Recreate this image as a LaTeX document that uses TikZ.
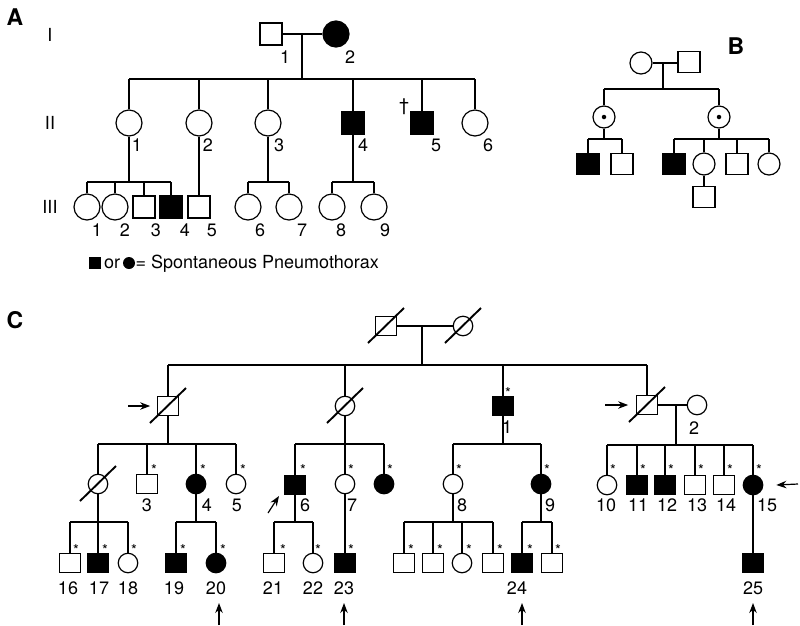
\documentclass[tikz,border=0pt]{standalone}
\usepackage{fontspec}
\setmainfont{TeX Gyre Heros}
\usetikzlibrary{arrows.meta}
\tikzset{
  sqA/.style={draw, rectangle, minimum width=22pt, minimum height=22pt, inner sep=0pt},
  ciA/.style={draw, circle, minimum size=26pt, inner sep=0pt},
  sqB/.style={draw, rectangle, minimum width=22pt, minimum height=21pt, inner sep=0pt},
  ciB/.style={draw, circle, minimum size=22pt, inner sep=0pt},
  sqC/.style={draw, rectangle, minimum width=20.5pt, minimum height=19pt, inner sep=0pt},
  ciC/.style={draw, circle, minimum size=19.5pt, inner sep=0pt},
  aff/.style={fill=black},
  dotc/.style={circle, fill=black, inner sep=0pt, minimum size=4.5pt},
  lbl/.style={font=\fontsize{18}{18}\selectfont, inner sep=0pt},
  gen/.style={font=\fontsize{18}{18}\selectfont, inner sep=0pt},
  panel/.style={font=\bfseries\fontsize{23}{23}\selectfont, inner sep=0pt},
  ast/.style={font=\fontsize{15}{15}\selectfont, inner sep=0pt},
  slash/.style={line width=1.9pt},
  arr/.style={-{Stealth[length=10pt,width=7.5pt]}, line width=1.2pt},
}
\begin{document}
\begin{tikzpicture}[x=1pt,y=-1pt,line width=1.2pt]
\useasboundingbox (0,0) rectangle (800,625);

% ================= Panel A =================
\node[panel] (pA) at (15,17) {A};
\node[gen] (gI) at (50,35) {I};
\node[gen] (gII) at (50,123) {II};
\node[gen] (gIII) at (50,207) {III};

\node[sqA] (AI1) at (271,34) {};
\node[ciA,aff] (AI2) at (336,34) {};
\draw (AI1.east) -- (AI2.west);
\node[lbl] (lAI1) at (285,57) {1};
\node[lbl] (lAI2) at (350,57) {2};
\coordinate (sA) at (302,79);
\draw (sA |- AI1.east) -- (sA);

\node[ciA] (AII1) at (129,123) {};
\node[ciA] (AII2) at (199,123) {};
\node[ciA] (AII3) at (268,123) {};
\node[sqA,aff] (AII4) at (353,123) {};
\node[sqA,aff] (AII5) at (422,123) {};
\node[ciA] (AII6) at (475,123) {};
\draw (AII1.north |- sA) -- (AII6.north |- sA);
\foreach \n in {AII1,AII2,AII3,AII4,AII5,AII6} \draw (\n.north) -- (\n.north |- sA);
\node[lbl] (dag) at (404,107) {†};
\node[lbl] (lAII1) at (137,145) {1};
\node[lbl] (lAII2) at (208,145) {2};
\node[lbl] (lAII3) at (279,145) {3};
\node[lbl] (lAII4) at (363,145) {4};
\node[lbl] (lAII5) at (436,145) {5};
\node[lbl] (lAII6) at (488,145) {6};

\node[ciA] (AIII1) at (87,207) {};
\node[ciA] (AIII2) at (115,207) {};
\node[sqA] (AIII3) at (144,207) {};
\node[sqA,aff] (AIII4) at (171,207) {};
\node[sqA] (AIII5) at (199,207) {};
\node[ciA] (AIII6) at (248,207) {};
\node[ciA] (AIII7) at (289,207) {};
\node[ciA] (AIII8) at (332,207) {};
\node[ciA] (AIII9) at (374,207) {};

\coordinate (sA1) at (129,182);
\draw (AII1.south) -- (sA1);
\draw (AIII1.north |- sA1) -- (AIII4.north |- sA1);
\foreach \n in {AIII1,AIII2,AIII3,AIII4} \draw (\n.north) -- (\n.north |- sA1);
\draw (AII2.south) -- (AIII5.north);
\coordinate (sA3) at (268,182);
\draw (AII3.south) -- (sA3);
\draw (AIII6.north |- sA3) -- (AIII7.north |- sA3);
\foreach \n in {AIII6,AIII7} \draw (\n.north) -- (\n.north |- sA3);
\coordinate (sA4) at (353,182);
\draw (AII4.south) -- (sA4);
\draw (AIII8.north |- sA4) -- (AIII9.north |- sA4);
\foreach \n in {AIII8,AIII9} \draw (\n.north) -- (\n.north |- sA4);

\node[lbl] (lAIII1) at (97,230) {1};
\node[lbl] (lAIII2) at (125,230) {2};
\node[lbl] (lAIII3) at (156,230) {3};
\node[lbl] (lAIII4) at (185,230) {4};
\node[lbl] (lAIII5) at (212,230) {5};
\node[lbl] (lAIII6) at (260,230) {6};
\node[lbl] (lAIII7) at (302,230) {7};
\node[lbl] (lAIII8) at (341,230) {8};
\node[lbl] (lAIII9) at (385,230) {9};

% legend
\node[fill=black, inner sep=0pt, minimum size=11.5pt] (legS) at (95,263) {};
\node[lbl, anchor=base] (legOr) at (112,268) {or};
\node[circle, fill=black, inner sep=0pt, minimum size=12pt] (legC) at (129,263) {};
\node[lbl, anchor=base west] (legT) at (135,268) {= Spontaneous Pneumothorax};

% ================= Panel B =================
\node[panel] (pB) at (736,46) {B};
\node[ciB] (B1) at (641,63) {};
\node[sqB] (B2) at (689,62) {};
\draw (B1.east) -- (B2.west |- B1.east);
\coordinate (sB) at (663,89);
\draw (sB |- B1.east) -- (sB);
\node[ciB] (BC1) at (604,117) {};
\node[ciB] (BC2) at (719,117) {};
\node[dotc] (BC1d) at (BC1) {};
\node[dotc] (BC2d) at (BC2) {};
\draw (BC1.north |- sB) -- (BC2.north |- sB);
\foreach \n in {BC1,BC2} \draw (\n.north) -- (\n.north |- sB);

\node[sqB,aff] (BD1) at (588,164) {};
\node[sqB] (BD2) at (622,164) {};
\coordinate (sBC1) at (604,139);
\draw (BC1.south) -- (sBC1);
\draw (BD1.north |- sBC1) -- (BD2.north |- sBC1);
\foreach \n in {BD1,BD2} \draw (\n.north) -- (\n.north |- sBC1);

\node[sqB,aff] (BE1) at (674,164) {};
\node[ciB] (BE2) at (704,164) {};
\node[sqB] (BE3) at (737,164) {};
\node[ciB] (BE4) at (769,164) {};
\coordinate (sBC2) at (719,139);
\draw (BC2.south) -- (sBC2);
\draw (BE1.north |- sBC2) -- (BE4.north |- sBC2);
\foreach \n in {BE1,BE2,BE3,BE4} \draw (\n.north) -- (\n.north |- sBC2);
\node[sqB] (BF1) at (704,197) {};
\draw (BE2.south) -- (BF1.north);

% ================= Panel C =================
\node[panel] (pC) at (15,320) {C};

\node[sqC] (G1) at (386,326) {};
\node[ciC] (G2) at (463,326) {};
\foreach \n in {G1,G2}
  \draw[slash] ([shift={(-18,17)}]\n.center) -- ([shift={(18,-18)}]\n.center);
\draw (G1.east) -- (G2.west);
\coordinate (sG) at (422,365);
\draw (sG |- G1.east) -- (sG);

\node[sqC] (H1) at (168,406) {};
\node[ciC] (H2) at (345,406) {};
\node[sqC,aff] (H3) at (503,406) {};
\node[sqC] (H4) at (647,405) {};
\node[ciC] (H5) at (697,405) {};
\foreach \n in {H1,H2,H4}
  \draw[slash] ([shift={(-18,17)}]\n.center) -- ([shift={(18,-18)}]\n.center);
\draw (H1.north |- sG) -- (H4.north |- sG);
\foreach \n in {H1,H2,H3,H4} \draw (\n.north) -- (\n.north |- sG);
\node[ast] (aH3) at (508,393) {*};
\node[lbl] (lH3) at (507,427) {1};
\draw (H4.east) -- (H5.west);
\node[lbl] (lH5) at (694,428) {2};
\coordinate (arH1) at (128,406);
\draw[arr] (arH1) -- ([xshift=-7pt]H1.west);
\coordinate (arH4) at (605,405);
\draw[arr] (arH4) -- ([xshift=-8pt]H4.west);

% children of H1
\node[ciC] (J1) at (98,484) {};
\node[sqC] (J2) at (147,484) {};
\node[ciC,aff] (J3) at (196,484) {};
\node[ciC] (J4) at (236,484) {};
\draw[slash] ([shift={(-18,17)}]J1.center) -- ([shift={(18,-18)}]J1.center);
\coordinate (sH1) at (168,444);
\draw (H1.south) -- (sH1);
\draw (J1.north |- sH1) -- (J4.north |- sH1);
\foreach \n in {J1,J2,J3,J4} \draw (\n.north) -- (\n.north |- sH1);

% children of H2
\node[sqC,aff] (J5) at (295,485) {};
\node[ciC] (J6) at (345,484) {};
\node[ciC,aff] (J7) at (384,484) {};
\coordinate (sH2) at (345,444);
\draw (H2.south) -- (sH2);
\draw (J5.north |- sH2) -- (J7.north |- sH2);
\foreach \n in {J5,J6,J7} \draw (\n.north) -- (\n.north |- sH2);

% children of H3
\node[ciC] (J8) at (453,484) {};
\node[ciC,aff] (J9) at (541,484) {};
\coordinate (sH3) at (503,444);
\draw (H3.south) -- (sH3);
\draw (J8.north |- sH3) -- (J9.north |- sH3);
\foreach \n in {J8,J9} \draw (\n.north) -- (\n.north |- sH3);

% children of H4 and H5
\node[ciC] (J10) at (607,485) {};
\node[sqC,aff] (J11) at (637,485) {};
\node[sqC,aff] (J12) at (665,485) {};
\node[sqC] (J13) at (695,485) {};
\node[sqC] (J14) at (724,485) {};
\node[ciC,aff] (J15) at (753,485) {};
\coordinate (sH4) at (676,445);
\draw (sH4 |- H4.east) -- (sH4);
\draw (J10.north |- sH4) -- (J15.north |- sH4);
\foreach \n in {J10,J11,J12,J13,J14,J15} \draw (\n.north) -- (\n.north |- sH4);
\coordinate (arJ15) at (798,484);
\draw[arr] (arJ15) -- ([xshift=13pt]J15.east);

% asterisks row J
\foreach \n/\x in {J2/154,J3/203,J4/243,J5/303,J6/351,J7/390,J8/459,J9/547,J10/613,J11/643,J12/671,J13/701,J14/730,J15/759}
  \node[ast] (a\n) at (\x,470) {*};

% labels row J
\foreach \n/\x/\t in {J2/147/3,J3/207/4,J4/237/5,J5/305/6,J6/352/7,J8/462/8,J9/550/9,J10/606/10,J11/638/11,J12/667/12,J13/697/13,J14/726/14,J15/767/15}
  \node[lbl] (l\n) at (\x,505) {\t};

% grandchildren
\node[sqC] (K16) at (70,563) {};
\node[sqC,aff] (K17) at (98,563) {};
\node[ciC] (K18) at (128,563) {};
\coordinate (sJ1) at (98,522);
\draw (J1.south) -- (sJ1);
\draw (K16.north |- sJ1) -- (K18.north |- sJ1);
\foreach \n in {K16,K17,K18} \draw (\n.north) -- (\n.north |- sJ1);

\node[sqC,aff] (K19) at (176,563) {};
\node[ciC,aff] (K20) at (216,563) {};
\coordinate (sJ3) at (196,522);
\draw (J3.south) -- (sJ3);
\draw (K19.north |- sJ3) -- (K20.north |- sJ3);
\foreach \n in {K19,K20} \draw (\n.north) -- (\n.north |- sJ3);

\node[sqC] (K21) at (274,563) {};
\node[ciC] (K22) at (313,563) {};
\coordinate (sJ5) at (295,522);
\draw (J5.south) -- (sJ5);
\draw (K21.north |- sJ5) -- (K22.north |- sJ5);
\foreach \n in {K21,K22} \draw (\n.north) -- (\n.north |- sJ5);

\node[sqC,aff] (K23) at (345,563) {};
\draw (J6.south) -- (K23.north);

\node[sqC] (K24a) at (404,563) {};
\node[sqC] (K24b) at (433,563) {};
\node[ciC] (K24c) at (462,563) {};
\node[sqC] (K24d) at (493,563) {};
\coordinate (sJ8) at (453,522);
\draw (J8.south) -- (sJ8);
\draw (K24a.north |- sJ8) -- (K24d.north |- sJ8);
\foreach \n in {K24a,K24b,K24c,K24d} \draw (\n.north) -- (\n.north |- sJ8);

\node[sqC,aff] (K24) at (522,563) {};
\node[sqC] (K24e) at (552,563) {};
\coordinate (sJ9) at (541,522);
\draw (J9.south) -- (sJ9);
\draw (K24.north |- sJ9) -- (K24e.north |- sJ9);
\foreach \n in {K24,K24e} \draw (\n.north) -- (\n.north |- sJ9);

\node[sqC,aff] (K25) at (753,563) {};
\draw (J15.south) -- (K25.north);

% asterisks row K
\foreach \n/\x in {K16/76,K17/105,K18/134,K19/183,K20/223,K21/283,K22/318,K23/351,K24a/411,K24b/440,K24c/469,K24d/500,K24/530,K24e/558}
  \node[ast] (a\n) at (\x,550) {*};

% labels row K
\foreach \n/\x/\t in {K16/68/16,K17/99/17,K18/128/18,K19/174/19,K20/216/20,K21/273/21,K22/313/22,K23/344/23,K24/517/24,K25/753/25}
  \node[lbl] (l\n) at (\x,588) {\t};

% proband arrows
\coordinate (ar20) at (219,625);
\draw[arr] (ar20) -- (219,603);
\coordinate (ar23) at (344,625);
\draw[arr] (ar23) -- (344,603);
\coordinate (ar24) at (522,625);
\draw[arr] (ar24) -- (522,603);
\coordinate (ar25) at (753,625);
\draw[arr] (ar25) -- (753,603);
\coordinate (ar6) at (268,513);
\draw[arr] (ar6) -- (279,496);
\end{tikzpicture}
\end{document}
